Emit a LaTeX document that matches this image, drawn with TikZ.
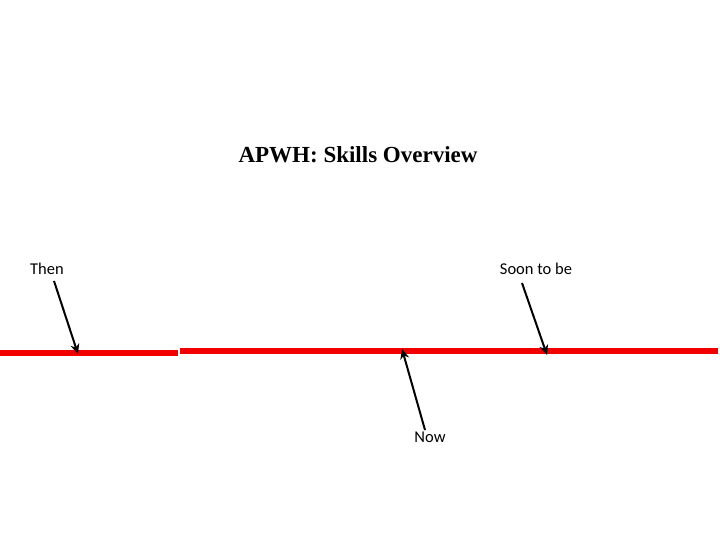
\documentclass[tikz,border=0pt]{standalone}
\usepackage{fontspec}
\setmainfont{Liberation Serif}
\newfontfamily\lab{Carlito}
\usetikzlibrary{arrows.meta}
\begin{document}
\begin{tikzpicture}[x=1pt,y=1pt,
  lbl/.style={font=\lab\fontsize{16.5}{20}\selectfont},
  arr/.style={line width=2pt,-{Stealth[length=10pt,width=9pt]}},
  redline/.style={red!95!black,line width=5.5pt}]
\useasboundingbox (0,0) rectangle (720,540);
\node (title) at (358,385) {\fontsize{23}{27}\selectfont\bfseries APWH: Skills Overview};
\coordinate (r1a) at (0,187); \coordinate (r1b) at (178,187);
\coordinate (r2a) at (180,189); \coordinate (r2b) at (718,189);
\draw[redline] (r1a) -- (r1b);
\draw[redline] (r2a) -- (r2b);
\node[lbl] (then) at (47,271) {Then};
\node[lbl] (soon) at (536,271) {Soon to be};
\node[lbl] (now) at (430,103) {Now};
\coordinate (tt) at (78,186); \coordinate (st) at (547,185); \coordinate (nt) at (402,191);
\draw[arr] (54,259) -- (tt);
\draw[arr] (522,257) -- (st);
\draw[arr] (425,110) -- (nt);
\end{tikzpicture}
\end{document}
